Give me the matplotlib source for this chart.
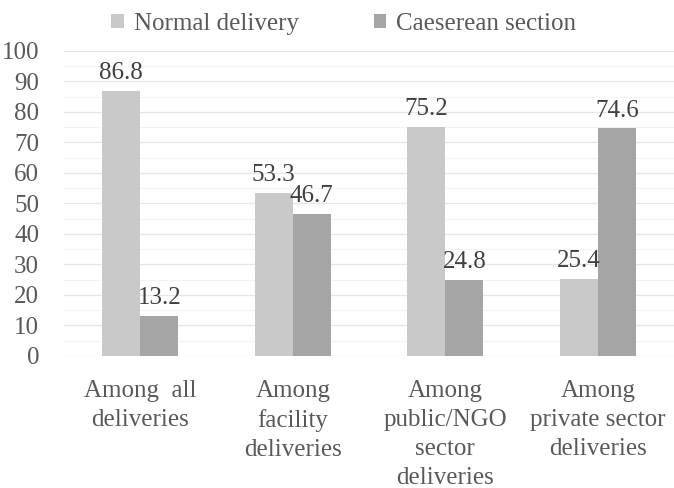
import matplotlib

matplotlib.use("Agg")
import matplotlib.pyplot as plt
import numpy as np
from matplotlib.ticker import MultipleLocator

# data
CATEGORIES = [
    "Among  all\ndeliveries",
    "Among\nfacility\ndeliveries",
    "Among\npublic/NGO\nsector\ndeliveries",
    "Among\nprivate sector\ndeliveries",
]
NORMAL = [86.8, 53.3, 75.2, 25.4]
CAESAREAN = [13.2, 46.7, 24.8, 74.6]
SERIES = ["Normal delivery", "Caeserean section"]

LIGHT = "#c9c9c9"
DARK = "#a5a5a5"
TEXT = "#595959"
LABEL = "#404040"
GRID = "#e6e6e6"
GRID_MINOR = "#f3f3f3"
FS = 18

plt.rcParams["font.family"] = ["Liberation Serif", "DejaVu Serif"]

fig = plt.figure(figsize=(6.74, 4.88), dpi=100)
ax = fig.add_axes([0.095, 0.2705, 0.905, 0.625])

x = np.arange(len(CATEGORIES))
w = 0.25
for dx, vals, color, name in ((-w / 2, NORMAL, LIGHT, SERIES[0]),
                              (w / 2, CAESAREAN, DARK, SERIES[1])):
    bars = ax.bar(x + dx, vals, width=w, color=color, label=name)
    for b, v in zip(bars, vals):
        ax.annotate(f"{v:.1f}", (b.get_x() + b.get_width() / 2, v),
                    xytext=(0, 5), textcoords="offset points",
                    ha="center", va="bottom", fontsize=FS, color=LABEL)

ax.set_xlim(-0.5, 3.5)
ax.set_ylim(0, 100)
ax.yaxis.set_major_locator(MultipleLocator(10))
ax.yaxis.set_minor_locator(MultipleLocator(5))
ax.yaxis.grid(True, which="major", color=GRID, linewidth=0.9)
ax.yaxis.grid(True, which="minor", color=GRID_MINOR, linewidth=0.8)
ax.set_axisbelow(True)
for side in ("top", "right", "left", "bottom"):
    ax.spines[side].set_visible(False)

ax.set_xticks(x)
ax.set_xticklabels(CATEGORIES, color=TEXT, fontsize=FS, linespacing=1.42)
ax.tick_params(axis="x", length=0, pad=17)
ax.tick_params(axis="y", which="both", length=0, pad=18, labelsize=FS, labelcolor=TEXT)

fig.legend(loc="upper center", bbox_to_anchor=(0.51, 1.02), ncol=2, frameon=False,
           fontsize=FS, labelcolor=TEXT, handlelength=0.5, handleheight=0.5,
           handletextpad=0.4, columnspacing=3.0)

fig.savefig("out.png", dpi=100)
